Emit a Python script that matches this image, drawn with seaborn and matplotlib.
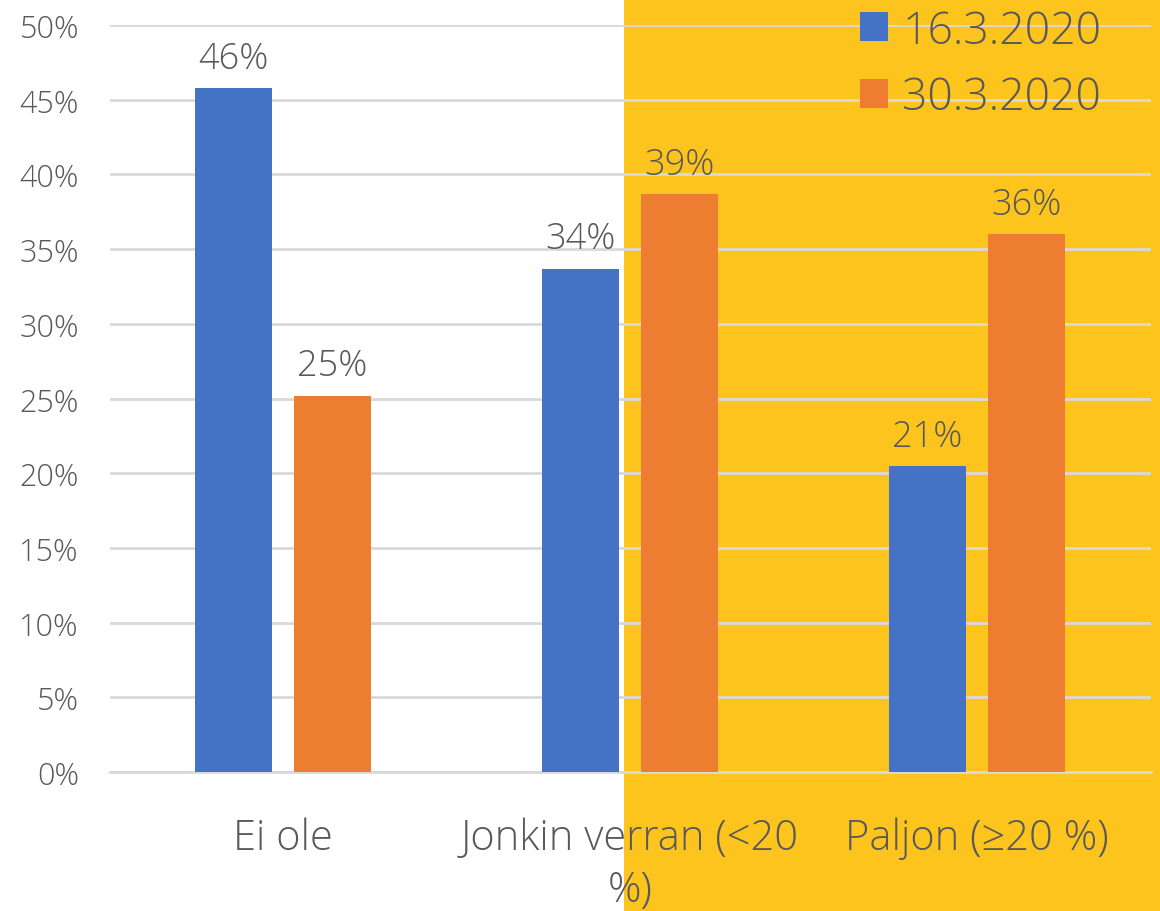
import matplotlib
matplotlib.use("Agg")
import matplotlib.pyplot as plt
import matplotlib.patches as mpatches
import seaborn as sns
import pandas as pd

categories = ["Ei ole", "Jonkin verran (<20\n%)", "Paljon (≥20 %)"]
series_names = ["16.3.2020", "30.3.2020"]
values_1603 = [45.8, 33.7, 20.5]
values_3003 = [25.2, 38.7, 36.0]
value_labels_1603 = ["46%", "34%", "21%"]
value_labels_3003 = ["25%", "39%", "36%"]
yticks = [0, 5, 10, 15, 20, 25, 30, 35, 40, 45, 50]
ytick_labels = [f"{t}%" for t in yticks]

colors = ["#4472C4", "#ED7D31"]
text_color = "#595959"

df = pd.DataFrame({
    "cat": categories * 2,
    "series": [series_names[0]] * 3 + [series_names[1]] * 3,
    "value": values_1603 + values_3003,
})

sns.set_theme(style="white")
plt.rcParams['font.family'] = ['Open Sans', 'DejaVu Sans']
plt.rcParams['font.weight'] = 'light'

fig = plt.figure(figsize=(11.6, 9.12), dpi=100)
fig.patch.set_facecolor("white")
bg = mpatches.Rectangle((624 / 1160, 0), 1 - 624 / 1160, 1,
                        transform=fig.transFigure, facecolor="#FEC41E",
                        edgecolor="none", zorder=-10)
fig.patches.append(bg)

ax = fig.add_axes([109.5 / 1160, 1 - 773 / 912, (1150.5 - 109.5) / 1160, (773 - 26) / 912])
ax.set_facecolor("none")

sns.barplot(data=df, x="cat", y="value", hue="series", palette=colors,
            order=categories, hue_order=series_names, saturation=1,
            width=0.5706, gap=0.222, ax=ax, legend=True, zorder=3,
            linewidth=0, edgecolor="none")

ax.set_ylim(0, 50)
ax.set_xlim(-0.5, 2.5)
ax.set_yticks(yticks)
ax.set_yticklabels(ytick_labels)
ax.yaxis.grid(True, color="#D9D9D9", linewidth=2)
ax.set_axisbelow(True)
for s in ["top", "right", "left"]:
    ax.spines[s].set_visible(False)
ax.spines["bottom"].set_color("#D9D9D9")
ax.spines["bottom"].set_linewidth(2)
ax.tick_params(axis="y", labelsize=22, colors=text_color, length=0, pad=22)
ax.tick_params(axis="x", labelsize=30, colors=text_color, length=0, pad=32)
for lbl in ax.get_xticklabels() + ax.get_yticklabels():
    lbl.set_fontweight("light")
    lbl.set_linespacing(1.3)
ax.set_xlabel("")
ax.set_ylabel("")

for cont, labels in zip(ax.containers, [value_labels_1603, value_labels_3003]):
    ax.bar_label(cont, labels=labels, padding=8, fontsize=26, color=text_color,
                 fontweight="light")

leg = ax.legend(loc="upper left", bbox_to_anchor=(860 / 1160, 1 - 10 / 912),
                bbox_transform=fig.transFigure,
                frameon=False, fontsize=32, handlelength=0.62, handleheight=0.62,
                handletextpad=0.33, labelspacing=0.5, borderaxespad=0, borderpad=0)
for t in leg.get_texts():
    t.set_color(text_color)
    t.set_fontweight("light")
for h in leg.legend_handles:
    h.set_linewidth(0)

fig.savefig("out.png", dpi=100)
